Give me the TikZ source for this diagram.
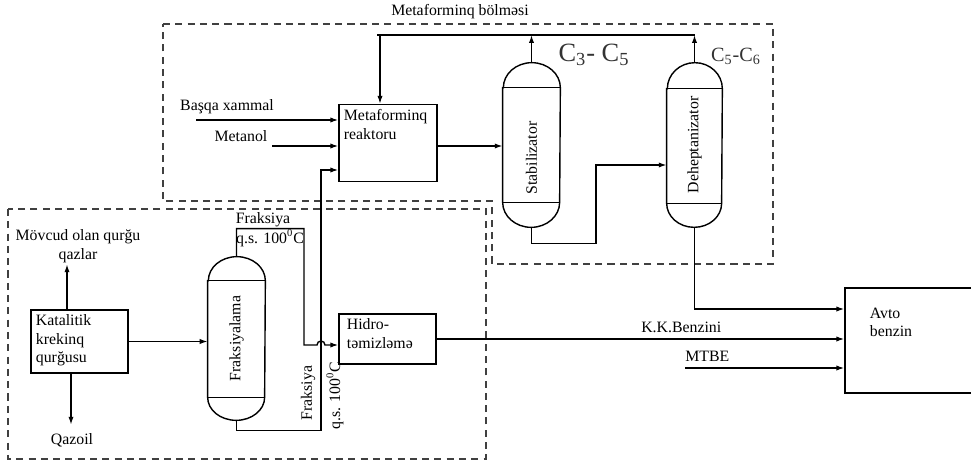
\documentclass[tikz,border=0pt]{standalone}
\usepackage{fontspec}
\setmainfont{Liberation Serif}
\usetikzlibrary{arrows.meta}

\tikzset{
  unitbox/.style={draw,line width=0.8pt,inner sep=0pt},
  boxtext/.style={anchor=north west,align=left,inner sep=3pt},
  vessel/.style={inner sep=0pt,minimum width=1.14cm,minimum height=3.28cm},
  pipe/.style={line width=0.8pt},
  flow/.style={line width=0.8pt,-{Latex[length=4.5pt,width=3pt]}},
  zone/.style={line width=0.8pt,black!75,dash pattern=on 4pt off 3pt},
}

\begin{document}
\begin{tikzpicture}[x=0.02cm,y=-0.02cm,font=\fontsize{9}{10.5}\selectfont]
 \useasboundingbox (0,0) rectangle (971,463);
 % dashed sections
 \draw[zone] (163,24) -- (773,24) -- (773,264) -- (492,264) -- (492,201) -- (163,201) -- cycle;
 \draw[zone] (8,209) rectangle (486,459);
 \node (zonetitle) at (460,12) {Metaforminq bölməsi};

 % boxes
 \node[unitbox,minimum width=1.96cm,minimum height=1.54cm,
   label={[boxtext]north west:{Metaforminq\\reaktoru}}] (reactor) at (388,143) {};
 \node[unitbox,minimum width=1.94cm,minimum height=1.26cm,
   label={[boxtext]north west:{Katalitik\\krekinq\\qurğusu}}] (kat) at (79.5,341.5) {};
 \node[unitbox,minimum width=1.94cm,minimum height=1.0cm,
   label={[boxtext,xshift=0.06cm]north west:{Hidro-\\təmizləmə}}] (hidro) at (387.5,339) {};
 \node[unitbox,minimum width=2.62cm,minimum height=2.1cm,
   label={[boxtext,xshift=0.4cm,yshift=-0.3cm]north west:{Avto\\benzin}}] (avto) at (910.5,340.5) {};

 % columns
 \node[vessel,minimum height=3.26cm] (frak) at (236.5,338.5) {};
 \draw[pipe] ([yshift=-0.48cm]frak.north west) -- ([yshift=0.46cm]frak.south west)
   arc[start angle=180,end angle=360,x radius=0.57cm,y radius=0.46cm]
   -- ([yshift=-0.48cm]frak.north east)
   arc[start angle=0,end angle=180,x radius=0.57cm,y radius=0.48cm] -- cycle;
 \draw[pipe] ([yshift=-0.48cm]frak.north west) -- ([yshift=-0.48cm]frak.north east)
   ([yshift=0.46cm]frak.south west) -- ([yshift=0.46cm]frak.south east);
 \node[rotate=90] (fraktext) at (frak.center) {Fraksiyalama};

 \node[vessel] (stab) at (531.5,145) {};
 \draw[pipe] ([yshift=-0.5cm]stab.north west) -- ([yshift=0.5cm]stab.south west)
   arc[start angle=180,end angle=360,x radius=0.57cm,y radius=0.5cm]
   -- ([yshift=-0.5cm]stab.north east)
   arc[start angle=0,end angle=180,x radius=0.57cm,y radius=0.5cm] -- cycle;
 \draw[pipe] ([yshift=-0.5cm]stab.north west) -- ([yshift=-0.5cm]stab.north east)
   ([yshift=0.5cm]stab.south west) -- ([yshift=0.5cm]stab.south east);
 \node[rotate=90] (stabtext) at ([yshift=-0.26cm]stab.center) {Stabilizator};

 \node[vessel,minimum width=1.1cm] (dehep) at (694.5,145) {};
 \draw[pipe] ([yshift=-0.52cm]dehep.north west) -- ([yshift=0.48cm]dehep.south west)
   arc[start angle=180,end angle=360,x radius=0.55cm,y radius=0.48cm]
   -- ([yshift=-0.52cm]dehep.north east)
   arc[start angle=0,end angle=180,x radius=0.55cm,y radius=0.52cm] -- cycle;
 \draw[pipe] ([yshift=-0.52cm]dehep.north west) -- ([yshift=-0.52cm]dehep.north east)
   ([yshift=0.48cm]dehep.south west) -- ([yshift=0.48cm]dehep.south east);
 \node[rotate=90] (dehetext) at (dehep.center) {Deheptanizator};

 % metaforming section
 \coordinate (topL) at (380,35);
 \draw[pipe] (377,35) -- (dehep.north |- topL);
 \draw[flow] (topL) -- (topL |- reactor.north);
 \draw[flow] (stab.north) -- (stab.north |- topL);
 \draw[flow] (dehep.north) -- (dehep.north |- topL);
 \node[font=\fontsize{15}{15}\selectfont,text=black!80] (lightcut) at (594,55)
   {C\textsubscript{3}- C\textsubscript{5}};
 \node[font=\fontsize{11.5}{12}\selectfont,text=black!80] (heavycut) at (736,56)
   {C\textsubscript{5}-C\textsubscript{6}};

 \coordinate (feedA) at (196,120);
 \coordinate (feedB) at (272,146);
 \draw[flow] (feedA) -- (feedA -| reactor.west);
 \draw[flow] (feedB) -- (feedB -| reactor.west);
 \node (feedAtext) at (227,107) {Başqa xammal};
 \node (feedBtext) at (241,136) {Metanol};

 \draw[flow] ([yshift=-0.06cm]reactor.east) -- ([yshift=-0.06cm]reactor.east -| stab.west);
 \coordinate (sb) at (596,165);
 \draw[flow] (stab.south) -- ++(0,16) -| (sb) -- (sb -| dehep.west);

 % cracking section
 \draw[flow] ([xshift=-0.25cm]kat.north) -- ++(0,-45);
 \node[align=center] (gasout) at (78,246) {Mövcud olan qurğu\\qazlar};
 \draw[flow] ([xshift=-0.17cm]kat.south) -- ++(0,51);
 \node (gasoil) at (72,440) {Qazoil};
 \draw[flow] (kat.east) -- (kat.east -| frak.west);

 \coordinate (hj) at (304,345);
 \coordinate (vrt) at (321,170);
 \draw[flow] (frak.south) -- ++(0,10) -| (vrt) -- (vrt -| reactor.west);
 \draw[flow] (frak.north) -- ++(0,-28) -| (hj) -- ([xshift=-0.08cm]hj -| vrt)
   arc[start angle=180,end angle=0,radius=0.08cm] -- (hj -| hidro.west);
 \node (fracup) at (263,220) {Fraksiya};
 \node[inner sep=0pt] (fracupt) at (270,238) {q.s. 100\textsuperscript{0}C};
 \node[rotate=90] (fraclow) at (308,393) {Fraksiya};
 \node[rotate=90] (fraclowt) at (335,396) {q.s. 100\textsuperscript{0}C};

 % blending
 \draw[flow] (dehep.south) |- ([yshift=0.63cm]avto.west);
 \draw[flow] (hidro.east) -- node[above,pos=0.6] (kkb) {K.K.Benzini} (hidro.east -| avto.west);
 \coordinate (mtbe) at (685,368);
 \draw[flow] (mtbe) -- (mtbe -| avto.west);
 \node[above right,inner xsep=0pt] (mtbetext) at (mtbe) {MTBE};
\end{tikzpicture}
\end{document}
